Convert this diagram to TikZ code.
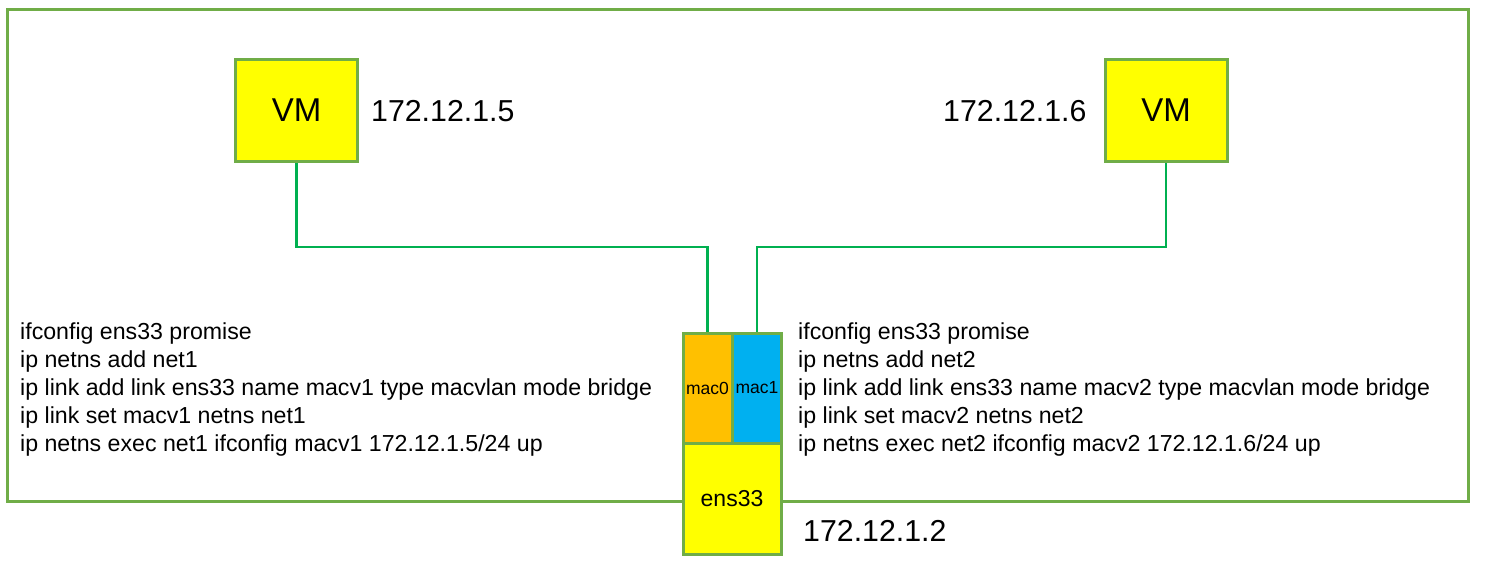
\documentclass[tikz,border=0pt]{standalone}
\usepackage{fontspec}
\setmainfont{Liberation Sans}
\usetikzlibrary{backgrounds}
\definecolor{frame}{HTML}{70AD47}
\definecolor{wire}{HTML}{00B050}
\definecolor{vmyellow}{HTML}{FFFF00}
\definecolor{macorange}{HTML}{FFC000}
\definecolor{macblue}{HTML}{00B0F0}
\begin{document}
\begin{tikzpicture}[x=1pt,y=-1pt,
  box/.style={draw=frame, line width=3pt, inner sep=0pt},
  vmbox/.style={box, fill=vmyellow, minimum width=122pt, minimum height=102pt, font=\fontsize{33}{38}\selectfont},
  macbox/.style={box, minimum width=49pt, minimum height=110pt, font=\fontsize{17.5}{20}\selectfont},
  iptext/.style={anchor=base west, inner sep=0pt, font=\fontsize{30.3}{36}\selectfont},
  cmd/.style={anchor=base west, inner sep=0pt, font=\fontsize{23.15}{28}\selectfont},
  wireline/.style={draw=wire, line width=2.5pt}]
\useasboundingbox (0,0) rectangle (1485,561);

\node[vmbox] (vm1) at (296.5,110.5) {VM};
\node[vmbox] (vm2) at (1166,110.5) {VM};

\node[box, fill=vmyellow, minimum width=98pt, minimum height=111pt, font=\fontsize{23}{28}\selectfont] (ens) at (732,498.5) {ens33};
\node[macbox, fill=macorange] (mac0) at (707.5,388) {mac0};
\node[macbox, fill=macblue] (mac1) at (757,388) {mac1};

\node[iptext] (ip1) at (371,122) {172.12.1.5};
\node[iptext] (ip2) at (943,122) {172.12.1.6};
\node[iptext] (ip3) at (803,541) {172.12.1.2};

\node[cmd] (l1) at (20,339) {ifconfig ens33 promise};
\node[cmd] (l2) at (20,367) {ip netns add net1};
\node[cmd] (l3) at (20,395) {ip link add link ens33 name macv1 type macvlan mode bridge};
\node[cmd] (l4) at (20,423) {ip link set macv1 netns net1};
\node[cmd] (l5) at (20,451) {ip netns exec net1 ifconfig macv1 172.12.1.5/24 up};

\node[cmd] (r1) at (798,339) {ifconfig ens33 promise};
\node[cmd] (r2) at (798,367) {ip netns add net2};
\node[cmd] (r3) at (798,395) {ip link add link ens33 name macv2 type macvlan mode bridge};
\node[cmd] (r4) at (798,423) {ip link set macv2 netns net2};
\node[cmd] (r5) at (798,451) {ip netns exec net2 ifconfig macv2 172.12.1.6/24 up};

\coordinate (j1) at (500,247);
\coordinate (j2) at (960,247);

\begin{scope}[on background layer]
\draw[frame, line width=3pt] (7.5,10) rectangle (1468.5,501.5);
\draw[wireline] (vm1.south) |- (j1) -| (mac0.north);
\draw[wireline] (vm2.south) |- (j2) -| (mac1.north);
\end{scope}
\end{tikzpicture}
\end{document}
